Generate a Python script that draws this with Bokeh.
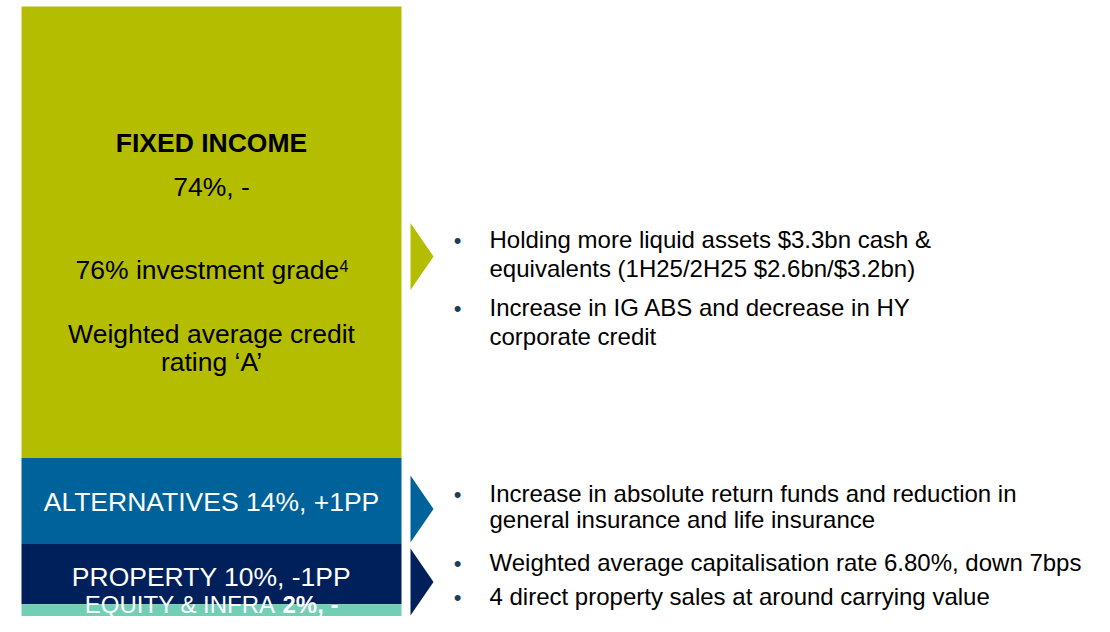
from bokeh.plotting import figure
from bokeh.models import Range1d, Label, ColumnDataSource
from bokeh.embed import file_html
from bokeh.resources import INLINE

# ---------------- data ----------------
categories = ["FIXED INCOME", "ALTERNATIVES", "PROPERTY", "EQUITY & INFRA"]
shares = [74, 14, 10, 2]
changes = ["-", "+1PP", "-1PP", "-"]
fi_notes = ["76% investment grade", "Weighted average credit", "rating \u2018A\u2019"]
fi_footnote = "4"
bullets_fixed = [["Holding more liquid assets $3.3bn cash &", "equivalents (1H25/2H25 $2.6bn/$3.2bn)"],
                 ["Increase in IG ABS and decrease in HY", "corporate credit"]]
bullets_alt = [["Increase in absolute return funds and reduction in", "general insurance and life insurance"]]
bullets_prop = [["Weighted average capitalisation rate 6.80%, down 7bps"],
                ["4 direct property sales at around carrying value"]]

# ---------------- style ----------------
colors = ["#B5BD00", "#00629B", "#00205B", "#71CFB5"]
FONT = "Liberation Sans"
W, H = 1094, 616
PX = 6.1           # pixels per percentage point
BASE = H           # pixel row of the 0% line (frame bottom)


def dy(row):
    """pixel row (from top) -> data y"""
    return (BASE - row) / PX


p = figure(width=W, height=H, x_range=Range1d(0, W), y_range=Range1d(dy(H), dy(0)),
           output_backend="svg", toolbar_location=None, min_border=0,
           x_axis_location=None, y_axis_location=None, background_fill_color="white",
           border_fill_color="white")
p.grid.visible = False
p.outline_line_color = None

# stacked column
tops, bottoms = [], []
acc = 100
for s in shares:
    tops.append(acc)
    bottoms.append(acc - s)
    acc -= s
src = ColumnDataSource(dict(cat=categories, top=tops, bottom=bottoms, color=colors))
BAR_X, BAR_W = 211, 380
p.vbar(x=BAR_X, width=BAR_W, top="top", bottom="bottom", fill_color="color",
       line_color=None, source=src)


def lab(x, row, text, size=26.5, color="black", bold=False, align="center"):
    """row = desired baseline pixel row"""
    p.add_layout(Label(x=x, y=dy(row - 0.4 * size), text=text, text_font=FONT,
                       text_font_size=f"{size}px", text_color=color,
                       text_font_style="bold" if bold else "normal",
                       text_align=align, text_baseline="alphabetic"))


def mid_row(i):
    return BASE - (tops[i] + bottoms[i]) / 2 * PX


HALF_CAP = 26.5 * 0.716 / 2

# fixed income block
lab(BAR_X, 153, categories[0], bold=True)
lab(BAR_X, 197, f"{shares[0]}%, {changes[0]}")
lab(BAR_X - 136, 280, fi_notes[0], align="left")
lab(BAR_X + 128, 272, fi_footnote, size=16, align="left")
lab(BAR_X, 344, fi_notes[1])
lab(BAR_X, 372, fi_notes[2])

# alternatives & property labels near segment middles
lab(BAR_X, mid_row(1) + HALF_CAP + 3, f"{categories[1]} {shares[1]}%, {changes[1]}", color="white")
lab(BAR_X, mid_row(2) + HALF_CAP + 4, f"{categories[2]} {shares[2]}%, {changes[2]}", color="white")

# equity & infra (mixed weights), on the bottom edge
EQ_ROW = H - 2
EQ_SIZE = 24
lab(BAR_X + 64, EQ_ROW, categories[3], size=EQ_SIZE, color="white", align="right")
lab(BAR_X + 71, EQ_ROW, f"{shares[3]}%, {changes[3]}", size=EQ_SIZE, color="white", bold=True, align="left")

# bullet text blocks (baseline rows)
TX, BX = 489, 457
blocks = [
    (bullets_fixed, [[249, 278], [317, 346]], colors[0]),
    (bullets_alt, [[503, 529]], colors[1]),
    (bullets_prop, [[572], [606]], colors[2]),
]
ax, ays, acol = [], [], []
for items, rows, col in blocks:
    for lines, ys in zip(items, rows):
        lab(BX, ys[0], "\u2022", size=22, color="#17405E")
        for line, yy in zip(lines, ys):
            lab(TX, yy, line, size=24, color="black", align="left")
    first = [y for r in rows for y in r][:2]
    c = sum(first) / 2 - 7.5
    ax.append([410, 433, 410])
    ays.append([dy(c - 33.5), dy(c), dy(c + 33.5)])
    acol.append(col)

p.patches(xs=ax, ys=ays, fill_color=acol, line_color=None)

open("out.html", "w").write(file_html(p, INLINE))
